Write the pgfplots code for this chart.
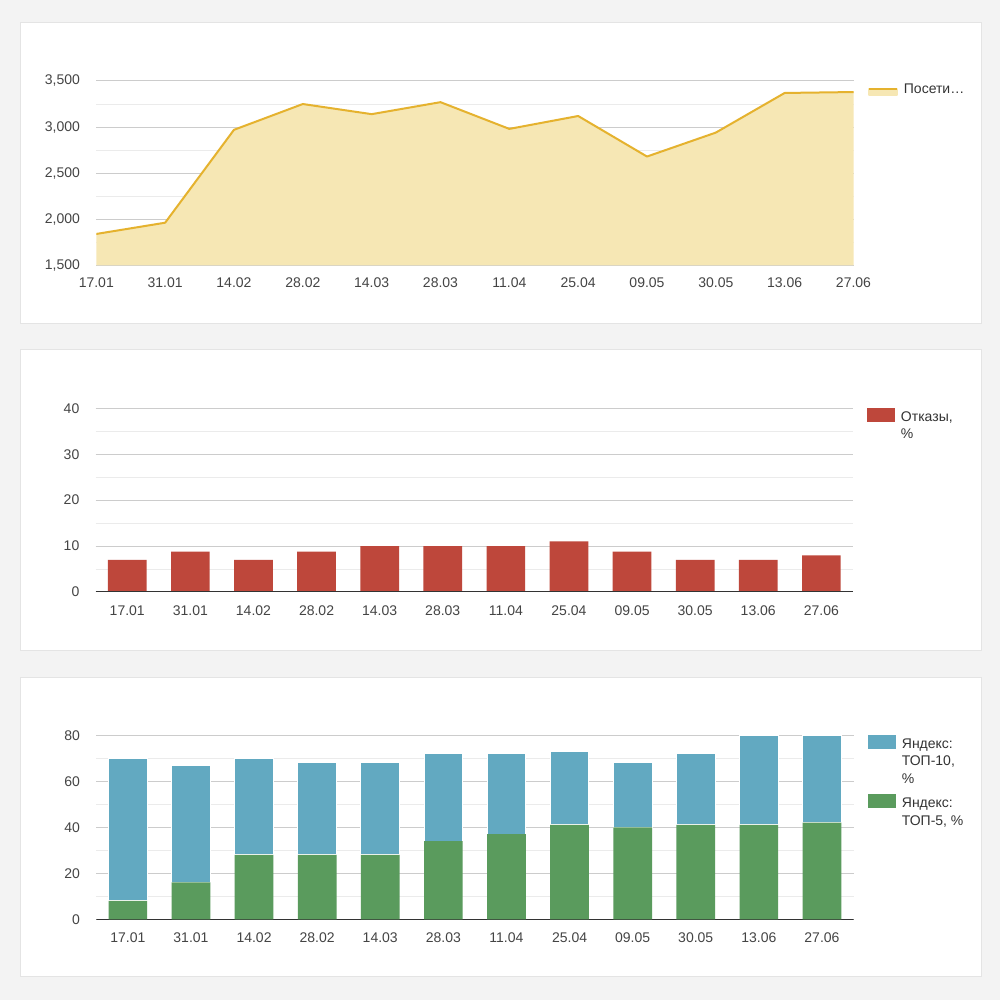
\documentclass[border=0pt]{standalone}
\usepackage{pgfplots}
\pgfplotsset{compat=1.18}
\usepackage{fontspec}
\setmainfont{Liberation Sans}
\definecolor{ycol}{HTML}{E5B22E}
\definecolor{yfill}{HTML}{F6E7B4}
\definecolor{rcol}{HTML}{BE473B}
\definecolor{bcol}{HTML}{62A9C1}
\definecolor{gcol}{HTML}{5A9B5D}
\definecolor{gridmaj}{HTML}{CCCCCC}
\definecolor{gridmin}{HTML}{EBEBEB}
\definecolor{txt}{HTML}{444444}
\definecolor{legtxt}{HTML}{333333}
\definecolor{basec}{HTML}{333333}
\definecolor{bgc}{HTML}{F3F3F3}
\definecolor{panelb}{HTML}{E4E4E4}
\pgfplotsset{
  panel/.style={
    scale only axis, width=378.6pt,
    axis line style={draw=none},
    major tick length=0pt, minor tick length=0pt,
    ymajorgrids, yminorgrids,
    major grid style={draw=gridmaj, line width=0.5pt},
    minor grid style={draw=gridmin, line width=0.5pt},
    xtick={0,...,11},
    xticklabels={17.01,31.01,14.02,28.02,14.03,28.03,11.04,25.04,09.05,30.05,13.06,27.06},
    tick label style={font=\fontsize{7}{8.6}\selectfont, text=txt},
    /pgf/number format/assume math mode=true,
    yticklabel style={xshift=-4.67pt},
    legend cell align=left,
    legend style={draw=none, fill=none, inner sep=0pt, outer sep=0pt,
      font=\fontsize{7}{8.8}\selectfont, text=legtxt,
      cells={anchor=base west}, nodes={inner sep=0pt},
      /tikz/column sep=2.85pt, /tikz/row sep=2.6pt, anchor=north west},
  }
}
\begin{document}
\begin{tikzpicture}
\useasboundingbox (0,0) rectangle (500pt,500pt);
\fill[bgc] (0,0) rectangle (500pt,500pt);
\filldraw[fill=white, draw=panelb, line width=0.4pt] (10pt,338.5pt) rectangle (490.5pt,489pt);
\filldraw[fill=white, draw=panelb, line width=0.4pt] (10pt,175pt) rectangle (490.5pt,325.5pt);
\filldraw[fill=white, draw=panelb, line width=0.4pt] (10pt,12pt) rectangle (490.5pt,161.5pt);

% Panel 1: visitors
\begin{axis}[panel, at={(48.15pt,367.35pt)}, anchor=south west, height=92.15pt,
  xmin=0, xmax=11, ymin=1500, ymax=3500,
  ytick={1500,2000,...,3500}, minor y tick num=1,
  xticklabel style={yshift=-2.8pt},
  legend style={at={(1.0194,0.998)}},
  legend image code/.code={\fill[yfill] (0pt,-0.8pt) rectangle (14pt,2.3pt); \draw[ycol, line width=1pt] (0pt,2.3pt) -- (14pt,2.3pt);}]
\addplot[fill=yfill, draw=none, forget plot] coordinates {
(0,1840) (1,1962) (2,2970) (3,3250) (4,3140) (5,3270) (6,2980) (7,3120) (8,2680) (9,2940) (10,3370) (11,3380)} \closedcycle;
\addplot[ycol, line width=1pt, line join=round] coordinates {
(0,1840) (1,1962) (2,2970) (3,3250) (4,3140) (5,3270) (6,2980) (7,3120) (8,2680) (9,2940) (10,3370) (11,3380)};
\addlegendentry{\begin{tabular}[t]{@{}l@{}}Посети…\end{tabular}}
\end{axis}

% Panel 2: bounce rate
\begin{axis}[panel, at={(47.85pt,204pt)}, anchor=south west, height=91.85pt,
  xmin=-0.5, xmax=11.5, ymin=0, ymax=40,
  ytick={0,10,...,40}, minor y tick num=1,
  xticklabel style={yshift=-3.3pt},
  legend style={at={(1.019,1.0016)}},
  legend image code/.code={\fill[#1, draw=none] (0pt,-0.4pt) rectangle (14pt,6.7pt);}]
\addplot[ybar, bar width=19.35pt, fill=rcol, draw=none] coordinates {
(0,7) (1,8.8) (2,7) (3,8.8) (4,10) (5,10) (6,10) (7,11) (8,8.8) (9,7) (10,7) (11,8)};
\addlegendentry{\begin{tabular}[t]{@{}l@{}}Отказы,\\\%\end{tabular}}
\draw[basec, line width=0.7pt] (rel axis cs:0,0) -- (rel axis cs:1,0);
\end{axis}

% Panel 3: Yandex positions
\begin{axis}[panel, at={(48.15pt,40.35pt)}, anchor=south west, height=92pt,
  xmin=-0.5, xmax=11.5, ymin=0, ymax=80,
  ytick={0,20,...,80}, minor y tick num=1,
  ybar stacked, bar width=19.35pt,
  xticklabel style={yshift=-3.3pt},
  reverse legend,
  legend style={at={(1.0194,1.0033)}, /tikz/row sep=21.6pt},
  legend image code/.code={\fill[#1, draw=none] (0pt,-0.4pt) rectangle (14pt,6.7pt);}]
\addplot[fill=gcol, draw=none] coordinates {
(0,8) (1,16) (2,28) (3,28) (4,28) (5,34) (6,37) (7,41) (8,40) (9,41) (10,41) (11,42)};
\addlegendentry{\begin{tabular}[t]{@{}l@{}}Яндекс:\\ТОП-5, \%\end{tabular}}
\addplot[fill=bcol, draw=white, line width=0.5pt] coordinates {
(0,62) (1,51) (2,42) (3,40) (4,40) (5,38) (6,35) (7,32) (8,28) (9,31) (10,39) (11,38)};
\addlegendentry{\begin{tabular}[t]{@{}l@{}}Яндекс:\\ТОП-10,\\\%\end{tabular}}
\draw[basec, line width=0.7pt] (rel axis cs:0,0) -- (rel axis cs:1,0);
\end{axis}
\end{tikzpicture}
\end{document}
